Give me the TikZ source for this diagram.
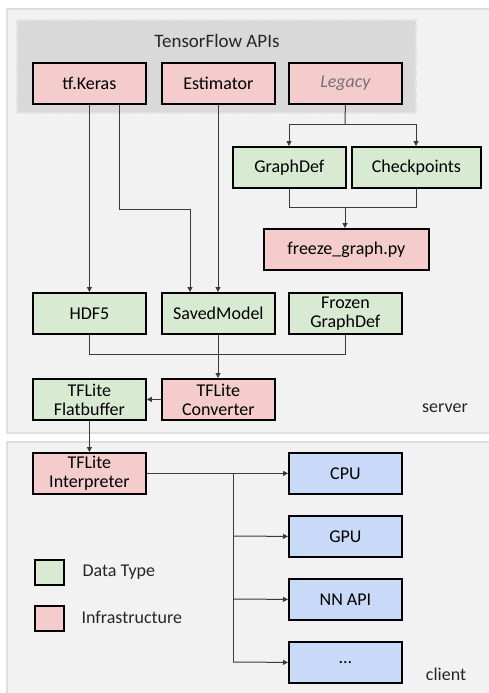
\documentclass[tikz,border=0pt]{standalone}
\usepackage{fontspec}
\setmainfont{Carlito}
\usetikzlibrary{arrows.meta}
\definecolor{pinkf}{HTML}{F4CCCC}
\definecolor{greenf}{HTML}{D9EAD3}
\definecolor{bluef}{HTML}{C9DAF8}
\definecolor{panelf}{HTML}{F2F2F2}
\definecolor{paneld}{HTML}{DEDEDE}
\definecolor{apif}{HTML}{D9D9D9}
\definecolor{conn}{HTML}{3A3A3A}
\tikzset{
  x=1pt, y=-1pt,
  box/.style={draw=black, line width=1.8pt, minimum width=113pt, minimum height=41pt, inner sep=1pt, align=center, font=\fontsize{18}{18}\selectfont, anchor=north west},
  infra/.style={box, fill=pinkf},
  dtype/.style={box, fill=greenf},
  dev/.style={box, fill=bluef},
  conline/.style={draw=conn, line width=1pt},
  arr/.style={conline, -{Triangle[length=5pt,width=5pt]}},
  lbl/.style={font=\fontsize{18}{18}\selectfont, text=black!85},
}
\begin{document}
\begin{tikzpicture}
\useasboundingbox (0,0) rectangle (488,693);
\fill[white] (0,0) rectangle (488,693);
% panels
\draw[fill=panelf, draw=paneld, line width=2pt] (7,9) rectangle (492,433);
\draw[fill=panelf, draw=paneld, line width=2pt] (7,442) rectangle (492,698);
% API group
\draw[fill=apif, draw=apif!70!white, line width=1.5pt, dash pattern=on 8pt off 3pt] (17,20) rectangle (416,113);
\node[lbl, font=\fontsize{19}{19}\selectfont] (apis) at (217,41) {TensorFlow APIs};
% top row
\node[infra] (keras) at (32,62) {tf.Keras};
\node[infra] (est) at (161,62) {Estimator};
\node[infra] (legacy) at (288,62) {\textcolor{black!55}{\itshape Legacy}};
% graphdef / checkpoints
\node[dtype, minimum width=113pt] (gdef) at (232,146) {GraphDef};
\node[dtype, minimum width=129pt] (ckpt) at (351,146) {Checkpoints};
\node[infra, minimum width=165pt] (freeze) at (263,228) {freeze\_graph.py};
% middle row
\node[dtype] (hdf) at (32,292) {HDF5};
\node[dtype] (saved) at (161,292) {SavedModel};
\node[dtype] (frozen) at (288,292) {Frozen\\[1pt]GraphDef};
% converter row
\node[dtype] (flat) at (32,378) {TFLite\\[1pt]Flatbuffer};
\node[infra] (conv) at (161,378) {TFLite\\[1pt]Converter};
\node[lbl] (server) at (445,408) {server};
% client
\node[infra] (interp) at (32,452) {TFLite\\[1pt]Interpreter};
\node[dev] (cpu) at (288,452) {CPU};
\node[dev] (gpu) at (288,515) {GPU};
\node[dev] (nnapi) at (288,578) {NN API};
\node[dev] (more) at (288,641) {...};
\node[lbl] (client) at (446,674) {client};
% legend
\node[draw=black, line width=1.8pt, fill=greenf, minimum width=29pt, minimum height=25pt, inner sep=0pt, anchor=north west] (lg) at (34,559) {};
\node[lbl, anchor=west] (lgt) at (79,572) {Data Type};
\node[draw=black, line width=1.8pt, fill=pinkf, minimum width=29pt, minimum height=25pt, inner sep=0pt, anchor=north west] (lr) at (34,605) {};
\node[lbl, anchor=west] (lrt) at (78,617) {Infrastructure};
% connectors: legacy
\coordinate (lsplit) at (345,124);
\draw[conline] (legacy.south) -- (lsplit);
\draw[arr] (lsplit) -| (gdef.north -| 289,0);
\draw[arr] (lsplit) -| (ckpt.north -| 416,0);
\coordinate (fjoin) at (345,207);
\draw[conline] (gdef.south -| 289,0) |- (fjoin);
\draw[conline] (ckpt.south -| 416,0) |- (fjoin);
\draw[arr] (fjoin) -- (freeze.north -| fjoin);
% keras/estimator
\draw[arr] (keras.south) -- (hdf.north);
\draw[arr] (keras.south -| 119,0) |- (190,209) -- (saved.north -| 190,0);
\draw[arr] (est.south -| 218,0) -- (saved.north -| 218,0);
% to converter
\coordinate (cjoin) at (218,354);
\draw[conline] (hdf.south) |- (cjoin);
\draw[conline] (frozen.south) |- (cjoin);
\draw[arr] (saved.south -| 218,0) -- (conv.north -| 218,0);
\draw[arr] (conv.west) -- (flat.east);
\draw[arr] (flat.south) -- (interp.north);
% client bus
\coordinate (bus) at (233,473);
\draw[arr] (interp.east |- cpu.west) -- (cpu.west);
\draw[conline] (bus) -- (233,662);
\draw[arr] (233,536) -- (gpu.west);
\draw[arr] (233,599) -- (nnapi.west);
\draw[arr] (233,662) -- (more.west);
\end{tikzpicture}
\end{document}
